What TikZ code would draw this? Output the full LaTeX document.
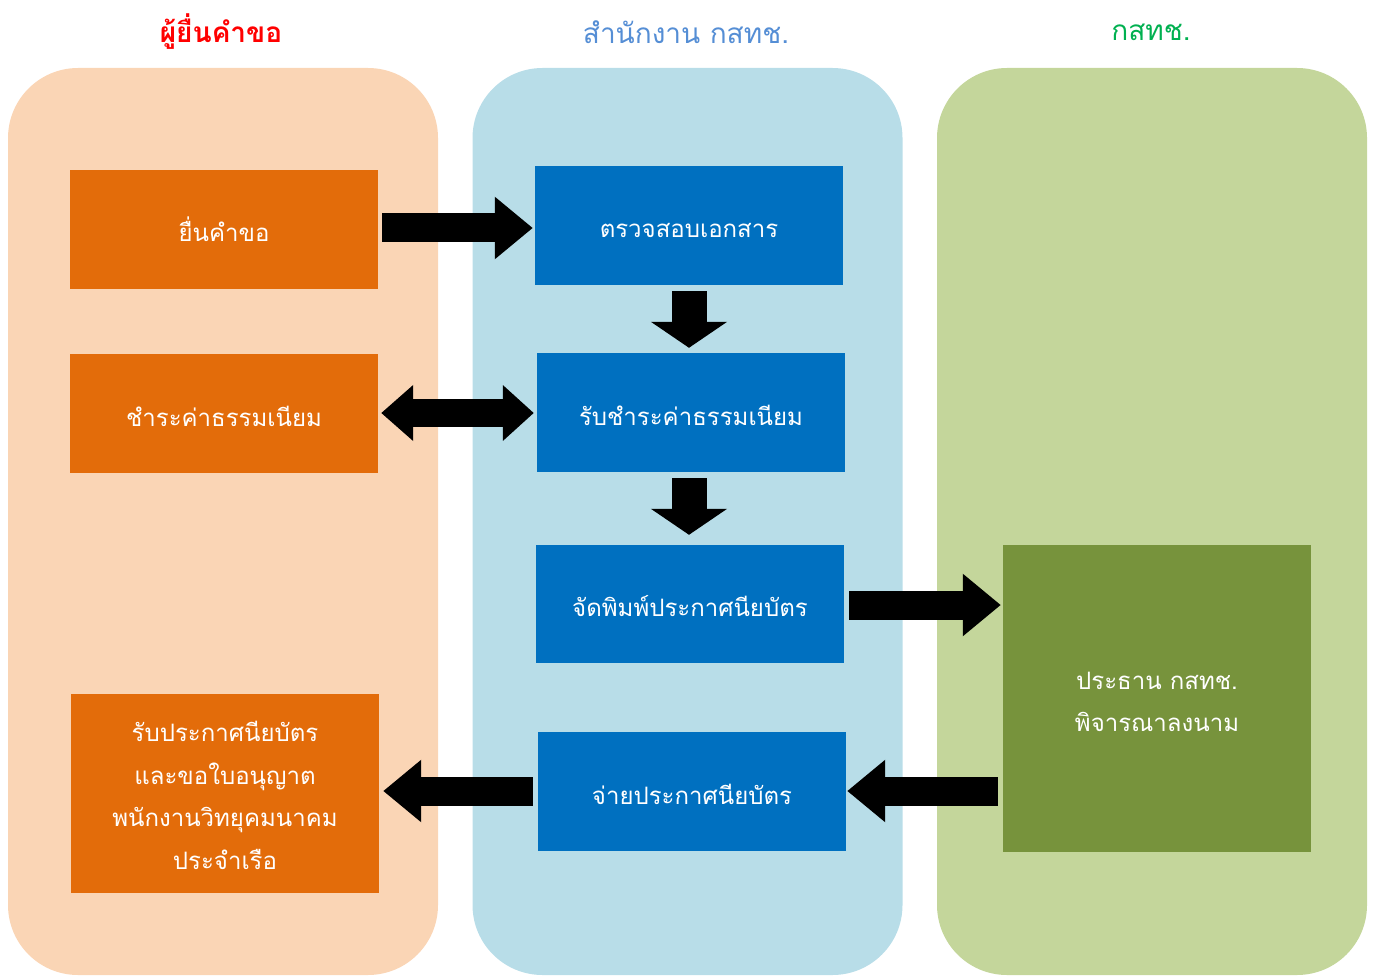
\documentclass[tikz,border=0pt]{standalone}
\usepackage{fontspec}
\newfontfamily\thai[Script=Thai]{Loma}
\usetikzlibrary{arrows.meta}
\definecolor{laneO}{HTML}{FAD5B5}
\definecolor{laneB}{HTML}{B8DDE8}
\definecolor{laneG}{HTML}{C4D69B}
\definecolor{boxO}{HTML}{E36C0A}
\definecolor{boxB}{HTML}{0070C0}
\definecolor{boxG}{HTML}{77933C}
\definecolor{hdrR}{HTML}{FF0000}
\definecolor{hdrB}{HTML}{558ED5}
\definecolor{hdrG}{HTML}{00B050}
\tikzset{
  lane/.style={rounded corners=70pt, minimum width=430pt, minimum height=907pt, inner sep=0pt},
  box/.style={minimum width=308pt, minimum height=119pt, inner sep=0pt, align=center,
    text=white, font=\thai\fontsize{24}{42.5}\selectfont},
  onebox/.style={box, text height=32pt, text depth=7pt},
  hdr/.style={font=\thai\fontsize{28}{34}\selectfont, inner sep=0pt},
  blk/.style={black, line width=29pt, -{Triangle[width=60pt,length=38pt]}},
  blkd/.style={black, line width=35pt, -{Triangle[width=75pt,length=26pt]}},
  blkdbl/.style={black, line width=28pt, {Triangle[width=54pt,length=32pt]}-{Triangle[width=54pt,length=31pt]}}
}
\begin{document}
\begin{tikzpicture}[x=1pt,y=-1pt]
\useasboundingbox (0,0) rectangle (1375,976);
% lanes
\node[lane, fill=laneO] (L1) at (223,521.5) {};
\node[lane, fill=laneB] (L2) at (687.5,521.5) {};
\node[lane, fill=laneG] (L3) at (1152,521.5) {};
% headers
\node[hdr, text=hdrR, font=\thai\bfseries\fontsize{28}{34}\selectfont] (h1) at (221,32) {ผู้ยื่นคำขอ};
\node[hdr, text=hdrB] (h2) at (686,32) {สำนักงาน กสทช.};
\node[hdr, text=hdrG] (h3) at (1151,32) {กสทช.};
% boxes
\node[onebox, fill=boxO] (o1) at (224,229.5) {ยื่นคำขอ};
\node[onebox, fill=boxO] (o2) at (224,413.5) {ชำระค่าธรรมเนียม};
\node[box, fill=boxO, minimum height=199pt] (o3) at (225,793.5) {\rule{0pt}{24pt}รับประกาศนียบัตร\\และขอใบอนุญาต\\พนักงานวิทยุคมนาคม\\ประจำเรือ};
\node[onebox, fill=boxB] (b1) at (689,225.5) {ตรวจสอบเอกสาร};
\node[onebox, fill=boxB] (b2) at (691,412.5) {รับชำระค่าธรรมเนียม};
\node[onebox, fill=boxB, minimum height=118pt] (b3) at (690,604) {จัดพิมพ์ประกาศนียบัตร};
\node[onebox, fill=boxB] (b4) at (692,791.5) {จ่ายประกาศนียบัตร};
\node[box, fill=boxG, minimum height=307pt] (g) at (1157,698.5) {\rule{0pt}{24pt}ประธาน กสทช.\\พิจารณาลงนาม};
% arrows
\draw[blk] ([shift={(4,-1.5)}]o1.east) -- ([shift={(-2,2.5)}]b1.west);
\draw[blkdbl] ([shift={(3,-0.5)}]o2.east) -- ([shift={(-3,0.5)}]b2.west);
\draw[blkd] ([shift={(0,6)}]b1.south) -- ([shift={(-2,-5)}]b2.north);
\draw[blkd] ([shift={(-2,6)}]b2.south) -- ([shift={(-1,-10)}]b3.north);
\draw[blk] ([shift={(5,1)}]b3.east) -- ([shift={(-2,-93.5)}]g.west);
\draw[blk] ([shift={(-5,92.5)}]g.west) -- ([shift={(1,-0.5)}]b4.east);
\draw[blk] ([shift={(-5,-0.5)}]b4.west) -- ([shift={(4,-2.5)}]o3.east);
\end{tikzpicture}
\end{document}
